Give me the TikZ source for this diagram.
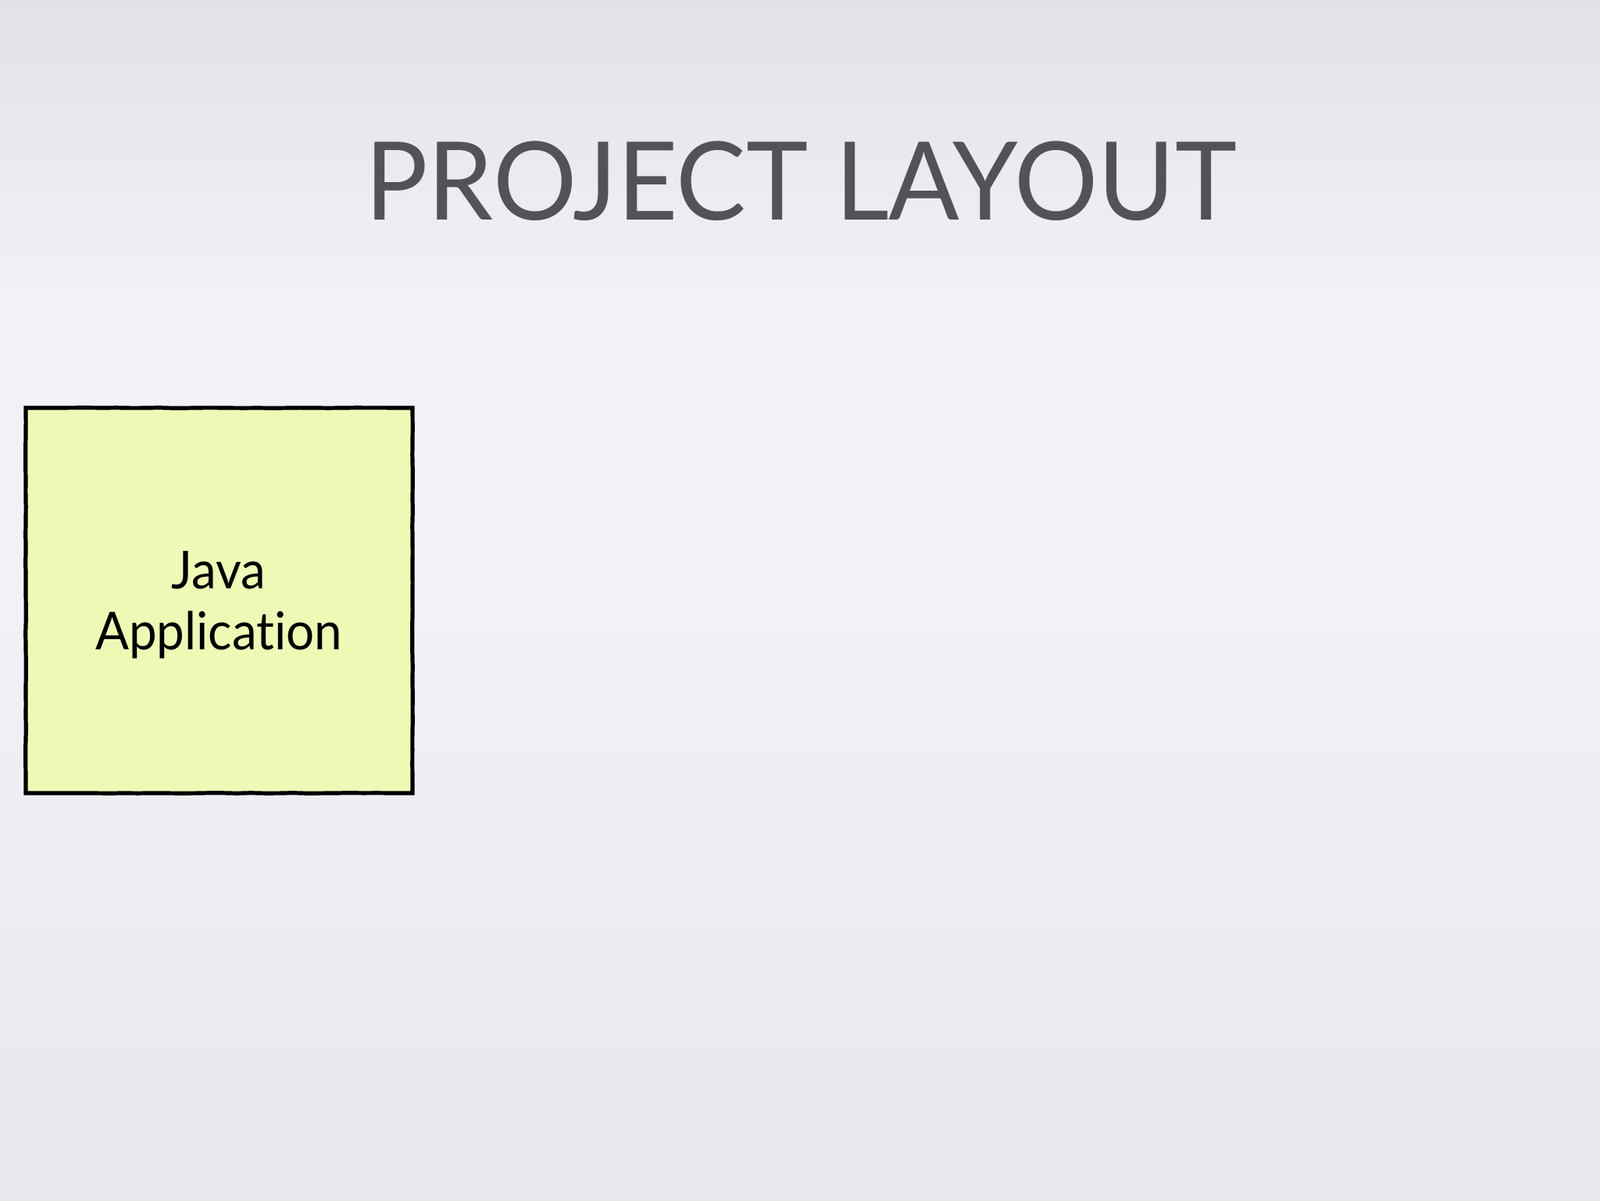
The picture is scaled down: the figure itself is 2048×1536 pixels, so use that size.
\documentclass[tikz,border=0pt]{standalone}
\usepackage{fontspec}
\setmainfont[RawFeature=-liga]{Lato}
\usetikzlibrary{decorations.pathmorphing}
\definecolor{bgtop}{RGB}{224,226,232}
\definecolor{bgmid}{RGB}{241,242,247}
\definecolor{bgbot}{RGB}{231,232,237}
\definecolor{notefill}{RGB}{240,248,182}
\definecolor{titlegray}{RGB}{82,82,87}
\begin{document}
\begin{tikzpicture}[x=0.5pt,y=-0.5pt,
  titlestyle/.style={text=titlegray,font=\fontsize{69.5}{72}\selectfont,inner sep=0pt,anchor=base},
  notebox/.style={draw=black,line width=2.6pt,line join=miter,decorate,decoration={random steps,segment length=9pt,amplitude=0.15pt}},
  notetext/.style={text=black,font=\fontsize{33.5}{39}\selectfont,align=center,inner sep=0pt}]
\useasboundingbox (0,0) rectangle (2048,1536);
\shade[top color=bgtop,bottom color=bgmid,middle color=bgmid] (0,0) rectangle (2048,768);
\shade[top color=bgmid,bottom color=bgbot] (0,768) rectangle (2048,1536);
\node[titlestyle,xscale=0.965] (title) at (1025,281) {PROJECT LAYOUT};
\fill[notefill] (33,522) rectangle (528,1015);
\draw[notebox] (33,522) rectangle (528,1015);
\node[notetext,xscale=0.95] (app) at (280,774) {Java\\Application};
\end{tikzpicture}
\end{document}
